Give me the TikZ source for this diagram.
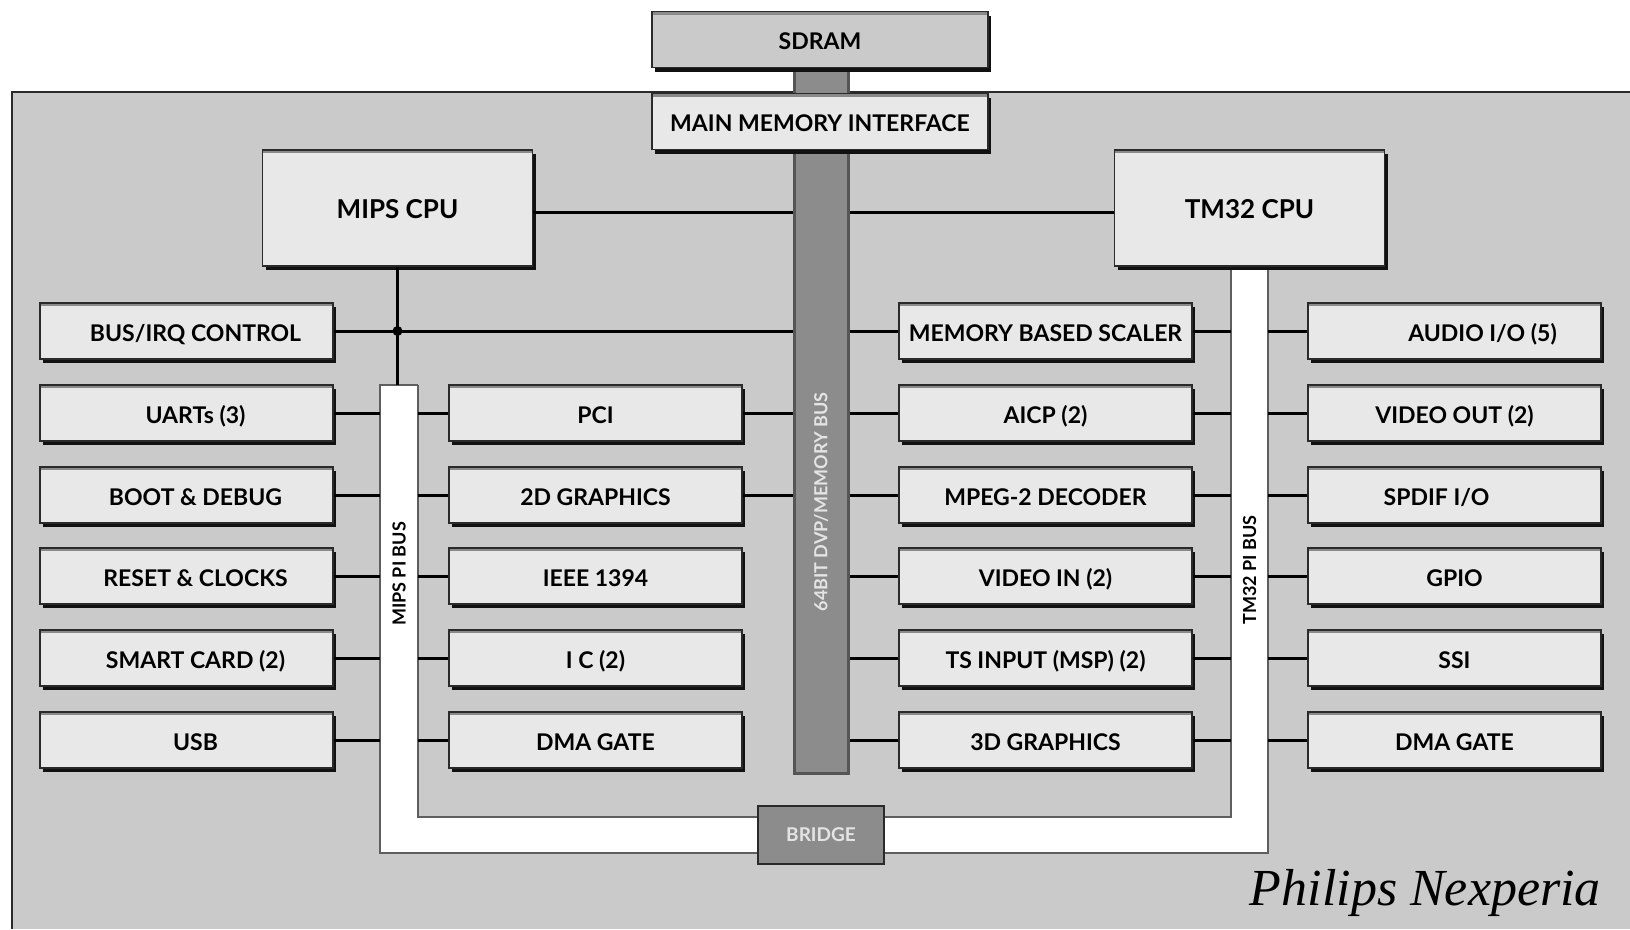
\documentclass[tikz,border=0pt]{standalone}
\usepackage{fontspec}
\usetikzlibrary{shadows}
\newfontfamily\lblfont{Lato}
\newfontfamily\capfont{Liberation Serif}

\definecolor{panel}{HTML}{CACACA}
\definecolor{boxfill}{HTML}{E8E8E8}
\definecolor{boxedge}{HTML}{2A2A2A}
\definecolor{boxtop}{HTML}{8A8A8A}
\definecolor{boxshade}{HTML}{111111}
\definecolor{busfill}{HTML}{8C8C8C}
\definecolor{busedge}{HTML}{555555}
\definecolor{busline}{HTML}{5E5E5E}
\definecolor{buslabel}{HTML}{E4E4E4}

\begin{document}
\begin{tikzpicture}[x=1pt,y=-1pt,
  blk/.style={draw=boxedge, line width=1.2pt, fill=boxfill, inner sep=0pt,
    minimum width=293pt, minimum height=56pt, text height=20pt, text depth=0pt,
    font=\lblfont\bfseries\fontsize{23}{26}\selectfont,
    general shadow={fill=boxshade, shadow xshift=3pt, shadow yshift=-4pt},
    path picture={\fill[boxtop] (path picture bounding box.north west)
      rectangle ([yshift=-3pt]path picture bounding box.north east);}},
  blkleft/.style={blk, execute at begin node={\hspace*{18pt}}},
  cpu/.style={blk, minimum width=270pt, minimum height=116pt,
    font=\lblfont\bfseries\fontsize{26}{28}\selectfont},
  wide/.style={blk, minimum width=336pt, minimum height=56pt},
  bus64/.style={draw=busedge, line width=3pt, fill=busfill, inner sep=0pt,
    minimum width=54pt, minimum height=705pt},
  bridge/.style={draw=boxedge, line width=2pt, fill=busfill, inner sep=0pt,
    minimum width=126pt, minimum height=58pt, text=buslabel,
    font=\lblfont\bfseries\fontsize{19}{22}\selectfont},
  buslbl/.style={rotate=90, inner sep=0pt, font=\lblfont\bfseries\fontsize{18}{21}\selectfont},
  wire/.style={draw=black, line width=3pt}
]
\useasboundingbox (0,0) rectangle (1630,929);
\fill[white] (0,0) rectangle (1630,929);

% chip outline
\fill[panel] (12,92) rectangle (1630,929);
\draw[boxedge, line width=2.5pt] (12,929) -- (12,92) -- (1630,92);

% 64-bit memory bus, behind the memory blocks
\node[bus64] (b64) at (821,420.5) {};
\node[buslbl, text=buslabel] (b64lbl) at (821,502) {64BIT DVP/MEMORY BUS};

% memory
\node[wide, fill=panel] (sdram) at (820,39.5) {SDRAM};
\node[wide] (mmi) at (820,121.5) {MAIN MEMORY INTERFACE};

% PI buses: one U-shaped white bus joined through the bridge
\coordinate (mpiL) at (380,385);
\coordinate (mpiR) at (418,385);
\coordinate (tpiL) at (1231,266);
\coordinate (tpiR) at (1268,266);
\fill[white] (380,385) -- (380,853) -- (1268,853) -- (1268,266)
  -- (1231,266) -- (1231,817) -- (418,817) -- (418,385) -- cycle;
\draw[busline, line width=1.8pt] (418,385) -- (380,385) -- (380,853) -- (1268,853) -- (1268,266);
\draw[busline, line width=1.8pt] (418,385) -- (418,817) -- (1231,817) -- (1231,266);
\node[buslbl] (mpilbl) at (399,574) {MIPS PI BUS};
\node[buslbl] (tpilbl) at (1249.5,570) {TM32 PI BUS};
\node[bridge] (bridge) at (821,834.5) {BRIDGE};

% processors
\node[cpu] (mips) at (397.5,208) {MIPS CPU};
\node[cpu] (tm) at (1249.5,208) {TM32 CPU};

% left column
\node[blkleft] (busirq) at (186.5,331) {BUS/IRQ CONTROL};
\node[blkleft] (uart)   at (186.5,413) {UARTs (3)};
\node[blkleft] (boot)   at (186.5,495) {BOOT \& DEBUG};
\node[blkleft] (reset)  at (186.5,576) {RESET \& CLOCKS};
\node[blkleft] (smart)  at (186.5,658) {SMART CARD (2)};
\node[blkleft] (usb)    at (186.5,740) {USB};

% MIPS side peripherals
\node[blk] (pci)    at (595.5,413) {PCI};
\node[blk] (gfx2d)  at (595.5,495) {2D GRAPHICS};
\node[blk] (ieee)   at (595.5,576) {IEEE 1394};
\node[blk] (iic)    at (595.5,658) {I C (2)};
\node[blk] (dmal)   at (595.5,740) {DMA GATE};

% TM32 side peripherals
\node[blk] (mbs)    at (1045.5,331) {MEMORY BASED SCALER};
\node[blk] (aicp)   at (1045.5,413) {AICP (2)};
\node[blk] (mpeg)   at (1045.5,495) {MPEG-2 DECODER};
\node[blk] (vin)    at (1045.5,576) {VIDEO IN (2)};
\node[blk] (ts)     at (1045.5,658) {TS INPUT (MSP) (2)};
\node[blk] (gfx3d)  at (1045.5,740) {3D GRAPHICS};

% right column
\node[blk] (audio)  at (1454.5,331) {\hspace*{56pt}AUDIO I/O (5)};
\node[blk] (vout)   at (1454.5,413) {VIDEO OUT (2)};
\node[blk] (spdif)  at (1454.5,495) {SPDIF I/O\hspace*{36pt}};
\node[blk] (gpio)   at (1454.5,576) {GPIO};
\node[blk] (ssi)    at (1454.5,658) {SSI};
\node[blk] (dmar)   at (1454.5,740) {DMA GATE};

% processor links
\draw[wire] ([yshift=-4pt]mips.east) -- ([yshift=-4pt]mips.east -| b64.west);
\draw[wire] ([yshift=-4pt]b64.east |- tm.west) -- ([yshift=-4pt]tm.west);
\draw[wire] (mips.south) -- (mips.south |- mpiL);
\draw[wire] (busirq.east) -- (busirq.east -| b64.west);
\fill (mips.south |- busirq.east) circle (5);

% MIPS PI bus links
\foreach \n in {uart,boot,reset,smart,usb}
  \draw[wire] (\n.east) -- (\n.east -| mpiL);
\foreach \n in {pci,gfx2d,ieee,iic,dmal}
  \draw[wire] (\n.west) -- (\n.west -| mpiR);
\foreach \n in {pci,gfx2d}
  \draw[wire] (\n.east) -- (\n.east -| b64.west);

% TM32 PI bus and memory bus links
\foreach \n in {mbs,aicp,mpeg,vin,ts,gfx3d} {
  \draw[wire] (\n.west) -- (\n.west -| b64.east);
  \draw[wire] (\n.east) -- (\n.east -| tpiL);
}
\foreach \n in {audio,vout,spdif,gpio,ssi,dmar}
  \draw[wire] (\n.west) -- (\n.west -| tpiR);

% caption
\node[anchor=base east, inner sep=0pt, font=\capfont\itshape\fontsize{52}{56}\selectfont]
  (caption) at (1601,905) {Philips Nexperia};
\end{tikzpicture}
\end{document}
